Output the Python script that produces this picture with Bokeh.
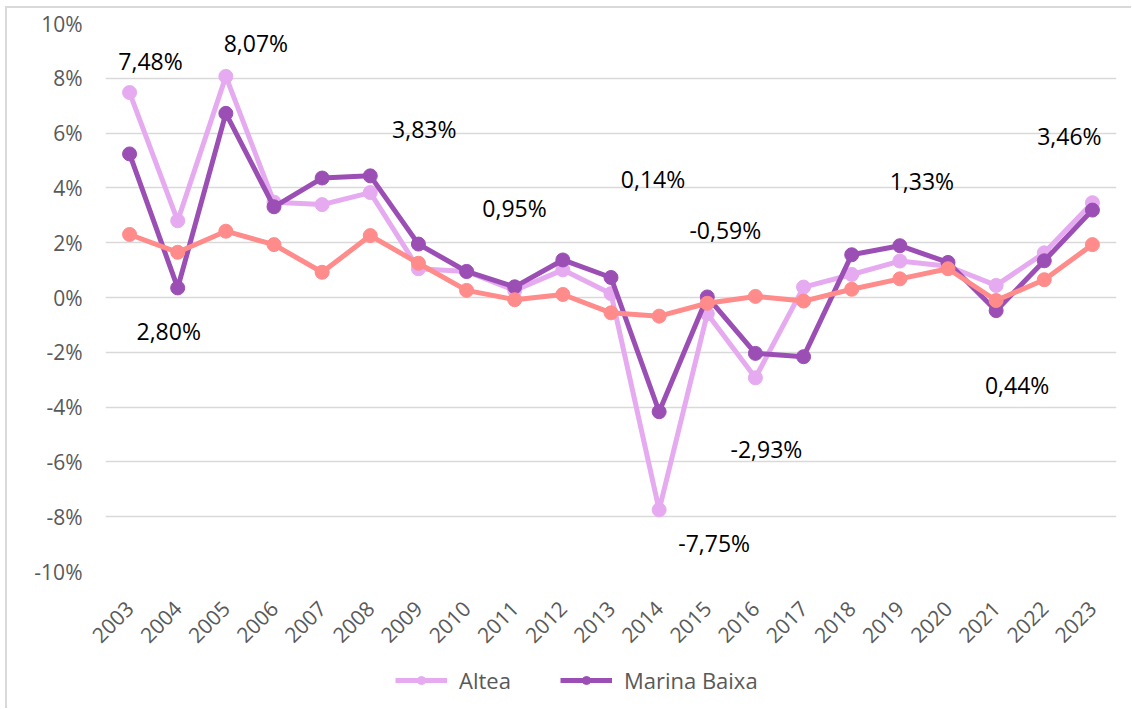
from bokeh.plotting import figure
from bokeh.layouts import column
from bokeh.models import (ColumnDataSource, FactorRange, Range1d, SingleIntervalTicker,
                          PrintfTickFormatter, Legend, LegendItem)
from bokeh.core.properties import value
from bokeh.embed import file_html
from bokeh.resources import INLINE
import math

years = [str(y) for y in range(2003, 2024)]
altea = [7.48, 2.80, 8.07, 3.48, 3.39, 3.83, 1.05, 0.95, 0.26, 1.01, 0.14,
         -7.75, -0.59, -2.93, 0.38, 0.84, 1.33, 1.14, 0.44, 1.63, 3.46]
marina_baixa = [5.24, 0.35, 6.72, 3.31, 4.36, 4.44, 1.95, 0.95, 0.39, 1.37, 0.73,
                -4.17, 0.02, -2.04, -2.16, 1.56, 1.89, 1.28, -0.48, 1.34, 3.19]
serie3 = [2.30, 1.65, 2.42, 1.93, 0.92, 2.26, 1.25, 0.26, -0.08, 0.11, -0.56,
          -0.68, -0.21, 0.04, -0.13, 0.30, 0.68, 1.05, -0.11, 0.65, 1.93]
series_names = ["Altea", "Marina Baixa"]
label_years = ["2003", "2004", "2005", "2008", "2010", "2013", "2014", "2015",
               "2016", "2019", "2021", "2023"]
y_ticks_interval = 2

# label placement (screen px offsets from the labelled point)
label_dx = [21, -9, 30, 54, 48, 42, 55, 18, 11, 22, 21, -23]
label_dy = [-32, 110, -33, -64, -63, -115, 33, -84, 71, -80, 100, -67]

FONT = "Open Sans"
C_ALTEA = "#E6AAF0"
C_MB = "#9B4FB5"
C_S3 = "#FF8B8B"

p = figure(width=1124, height=650, x_range=FactorRange(*years, range_padding=0),
           y_range=Range1d(-10, 10), output_backend="svg", toolbar_location=None,
           min_border_left=98, min_border_right=15, min_border_top=15,
           min_border_bottom=87)
p.outline_line_color = None
p.background_fill_color = "white"

p.xgrid.grid_line_color = None
p.ygrid.grid_line_color = "#D9D9D9"
p.ygrid.grid_line_width = 1.5
p.yaxis.ticker = SingleIntervalTicker(interval=y_ticks_interval)
p.yaxis.formatter = PrintfTickFormatter(format="%d%%")

for ax in (p.xaxis[0], p.yaxis[0]):
    ax.axis_line_color = None
    ax.major_tick_line_color = None
    ax.minor_tick_line_color = None
    ax.major_label_text_font = FONT
    ax.major_label_text_font_size = "21px"
    ax.major_label_text_color = "#595959"
p.yaxis.major_label_standoff = 17
p.xaxis.major_label_orientation = math.pi / 4
p.xaxis.major_label_standoff = 27

src = ColumnDataSource(dict(x=years, altea=altea, mb=marina_baixa, s3=serie3))

p.line("x", "altea", source=src, color=C_ALTEA, line_width=5)
p.scatter("x", "altea", source=src, color=C_ALTEA, size=14)
p.line("x", "mb", source=src, color=C_MB, line_width=5)
p.scatter("x", "mb", source=src, color=C_MB, size=14)
p.line("x", "s3", source=src, color=C_S3, line_width=5)
p.scatter("x", "s3", source=src, color=C_S3, size=14)

lab_vals = [altea[years.index(y)] for y in label_years]
lab_text = [f"{v:.2f}%".replace(".", ",") for v in lab_vals]
lsrc = ColumnDataSource(dict(x=label_years, y=lab_vals, t=lab_text, dx=label_dx, dy=label_dy))
p.text("x", "y", text="t", source=lsrc, x_offset="dx", y_offset="dy",
       text_align="center", text_baseline="middle", text_font=value(FONT),
       text_font_size="23px", text_color="black")

# legend strip below the chart (its renderers fall outside its own view range)
pl = figure(width=1124, height=50, x_range=p.x_range, y_range=Range1d(50, 60),
            output_backend="svg", toolbar_location=None, min_border=0,
            x_axis_type=None, y_axis_type=None)
pl.outline_line_color = None
pl.grid.grid_line_color = None
items = []
for name, col, field in zip(series_names, [C_ALTEA, C_MB], ["altea", "mb"]):
    r1 = pl.line("x", field, source=src, color=col, line_width=5)
    r2 = pl.scatter("x", field, source=src, color=col, size=14)
    items.append(LegendItem(label=name, renderers=[r1, r2]))
legend = Legend(items=items, orientation="horizontal", location=(290, 13),
                glyph_width=52, glyph_height=20, label_height=20,
                label_standoff=12, spacing=49, padding=0, margin=0,
                border_line_color=None, background_fill_alpha=0,
                label_text_font=FONT, label_text_font_size="22px",
                label_text_color="#595959")
pl.add_layout(legend, "center")

layout = column(p, pl, spacing=0,
                styles={"margin-left": "5px", "margin-top": "6px",
                        "border-top": "2px solid #D9D9D9",
                        "border-left": "2px solid #D9D9D9"})

open("out.html", "w").write(file_html(layout, INLINE))
